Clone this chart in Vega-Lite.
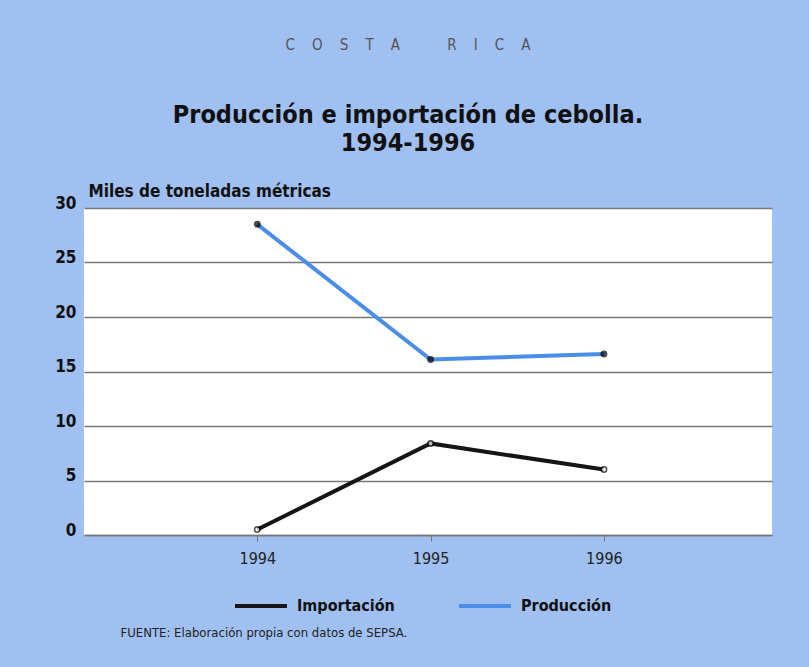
{
  "$schema": "https://vega.github.io/schema/vega-lite/v6.json",
  "width": 688,
  "height": 327,
  "autosize": {"type": "none"},
  "padding": {"left": 84, "top": 208, "right": 37, "bottom": 132},
  "background": "#9fc0f0",
  "config": {
    "font": "DejaVu Sans Condensed, sans-serif",
    "view": {"fill": "white", "stroke": null}
  },
  "title": {
    "text": "C\u00a0\u00a0\u00a0\u00a0O\u00a0\u00a0\u00a0\u00a0S\u00a0\u00a0\u00a0\u00a0T\u00a0\u00a0\u00a0\u00a0A\u00a0\u00a0\u00a0\u00a0\u00a0\u00a0\u00a0\u00a0\u00a0\u00a0\u00a0R\u00a0\u00a0\u00a0\u00a0I\u00a0\u00a0\u00a0\u00a0C\u00a0\u00a0\u00a0\u00a0A",
    "subtitle": ["Producción e importación de cebolla.", "1994-1996"],
    "anchor": "middle",
    "dx": -20,
    "fontSize": 15,
    "fontWeight": "normal",
    "color": "#555555",
    "subtitleFontSize": 25,
    "subtitleFontWeight": "bold",
    "subtitleColor": "#111111",
    "subtitleLineHeight": 28,
    "subtitlePadding": 50,
    "offset": 26
  },
  "data": {
    "values": [
      {"year": 1994, "series": "Producción", "value": 28.5},
      {"year": 1995, "series": "Producción", "value": 16.1},
      {"year": 1996, "series": "Producción", "value": 16.6},
      {"year": 1994, "series": "Importación", "value": 0.5},
      {"year": 1995, "series": "Importación", "value": 8.4},
      {"year": 1996, "series": "Importación", "value": 6.0}
    ]
  },
  "encoding": {
    "x": {
      "field": "year",
      "type": "quantitative",
      "scale": {"domain": [1993, 1996.97], "nice": false, "zero": false},
      "axis": {
        "values": [1994, 1995, 1996],
        "format": "d",
        "grid": false,
        "domain": true,
        "domainColor": "#777777",
        "domainWidth": 1.5,
        "ticks": true,
        "tickColor": "#777777",
        "tickSize": 6,
        "labelFontSize": 16,
        "labelColor": "#222222",
        "labelPadding": 9,
        "title": "FUENTE:  Elaboración propia con datos de SEPSA.",
        "titleX": 36,
        "titleY": 101,
        "titleAnchor": "start",
        "titleAlign": "left",
        "titleBaseline": "alphabetic",
        "titleFontSize": 13,
        "titleFontWeight": "normal",
        "titleColor": "#222222"
      }
    },
    "y": {
      "field": "value",
      "type": "quantitative",
      "scale": {"domain": [0, 30], "nice": false},
      "axis": {
        "values": [0, 5, 10, 15, 20, 25, 30],
        "grid": true,
        "gridColor": "#777777",
        "gridWidth": 1.5,
        "gridOpacity": 1,
        "domain": false,
        "ticks": false,
        "labelFontSize": 17,
        "labelFontWeight": "bold",
        "labelColor": "#111111",
        "labelPadding": 8,
        "labelOffset": -5,
        "title": "Miles de toneladas métricas",
        "titleAngle": 0,
        "titleAlign": "left",
        "titleAnchor": "start",
        "titleBaseline": "alphabetic",
        "titleX": 4,
        "titleY": -12,
        "titleFontSize": 17,
        "titleFontWeight": "bold",
        "titleColor": "#111111"
      }
    }
  },
  "layer": [
    {
      "mark": {"type": "line", "strokeWidth": 4},
      "encoding": {
        "color": {
          "field": "series",
          "type": "nominal",
          "scale": {"domain": ["Importación", "Producción"], "range": ["#151515", "#4a8ee8"]},
          "legend": {
            "title": null,
            "orient": "none",
            "direction": "horizontal",
            "legendX": 149,
            "legendY": 370,
            "symbolType": "stroke",
            "symbolSize": 2700,
            "symbolStrokeWidth": 4,
            "labelFontSize": 16,
            "labelFontWeight": "bold",
            "labelColor": "#111111",
            "labelOffset": 8,
            "columnPadding": 56
          }
        }
      }
    },
    {
      "mark": {"type": "point", "filled": true, "size": 30, "stroke": "#000000", "strokeWidth": 1.5},
      "encoding": {
        "fill": {
          "field": "series",
          "type": "nominal",
          "scale": {"domain": ["Importación", "Producción"], "range": ["#ffffff", "#000000"]},
          "legend": null
        }
      }
    }
  ]
}
